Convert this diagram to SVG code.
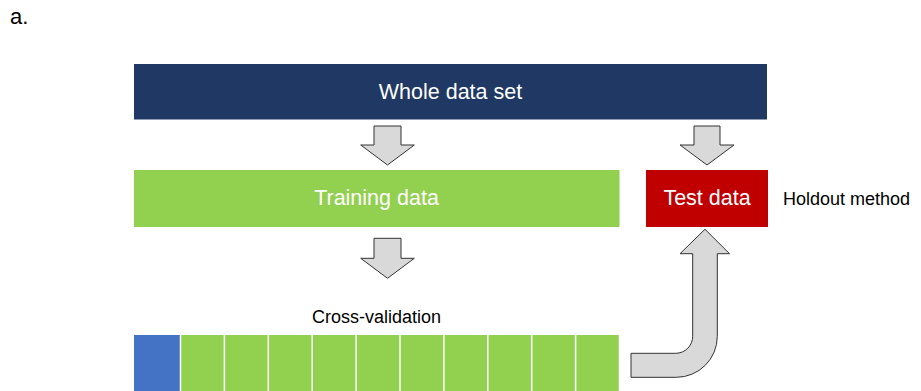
<svg xmlns="http://www.w3.org/2000/svg" width="921" height="391" viewBox="0 0 921 391">
<style>
text{font-family:"Liberation Sans",Arial,Helvetica,sans-serif}
.w{fill:#fff;font-size:21.5px;text-anchor:middle}
.k{fill:#000;font-size:18px}
.arr{fill:#d9d9d9;stroke:#333;stroke-width:1}
.g{fill:#92d050}
</style>
<rect width="921" height="391" fill="#fff"/>
<text x="10" y="24" style="font-size:22px">a.</text>
<g id="whole">
<rect x="134" y="64" width="633" height="55.5" fill="#203864"/>
<text class="w" x="450.5" y="99">Whole data set</text>
</g>
<g id="training">
<rect x="134" y="170" width="485.5" height="57" fill="#92d050"/>
<text class="w" x="376.5" y="205">Training data</text>
</g>
<g id="test">
<rect x="646" y="170" width="122" height="57" fill="#c00000"/>
<text class="w" x="707" y="205">Test data</text>
</g>
<g id="holdout-label">
<text class="k" x="783" y="204.5">Holdout method</text>
</g>
<g id="cv-label">
<text class="k" x="376.5" y="323" text-anchor="middle">Cross-validation</text>
</g>
<g id="folds">
<rect x="134" y="335" width="45.75" height="60" fill="#4472c4"/>
<rect class="g" x="181.25" y="335" width="42.4" height="60"/>
<rect class="g" x="225.15" y="335" width="42.4" height="60"/>
<rect class="g" x="269.05" y="335" width="42.4" height="60"/>
<rect class="g" x="312.95" y="335" width="42.4" height="60"/>
<rect class="g" x="356.85" y="335" width="42.4" height="60"/>
<rect class="g" x="400.75" y="335" width="42.4" height="60"/>
<rect class="g" x="444.65" y="335" width="42.4" height="60"/>
<rect class="g" x="488.55" y="335" width="42.4" height="60"/>
<rect class="g" x="532.45" y="335" width="42.4" height="60"/>
<rect class="g" x="576.35" y="335" width="42.4" height="60"/>
</g>
<g id="connectors">
<path class="arr" d="M374,126 L401,126 L401,145 L414.3,145 L387.5,165 L360.7,145 L374,145 Z"/>
<path class="arr" d="M694,126 L720,126 L720,145 L734,145 L707,165 L680,145 L694,145 Z"/>
<path class="arr" d="M374,238.3 L401,238.3 L401,258.3 L414.3,258.3 L387.5,278.3 L360.7,258.3 L374,258.3 Z"/>
<path class="arr" d="M631,353.3 L675.7,353.3 A17,17 0 0 0 692.7,336.3 L692.7,253.7 L680,253.7 L705,229.3 L729.5,253.7 L717.3,253.7 L717.3,336.3 A41,41 0 0 1 676.3,377.3 L631,377.3 Z"/>
</g>
</svg>
